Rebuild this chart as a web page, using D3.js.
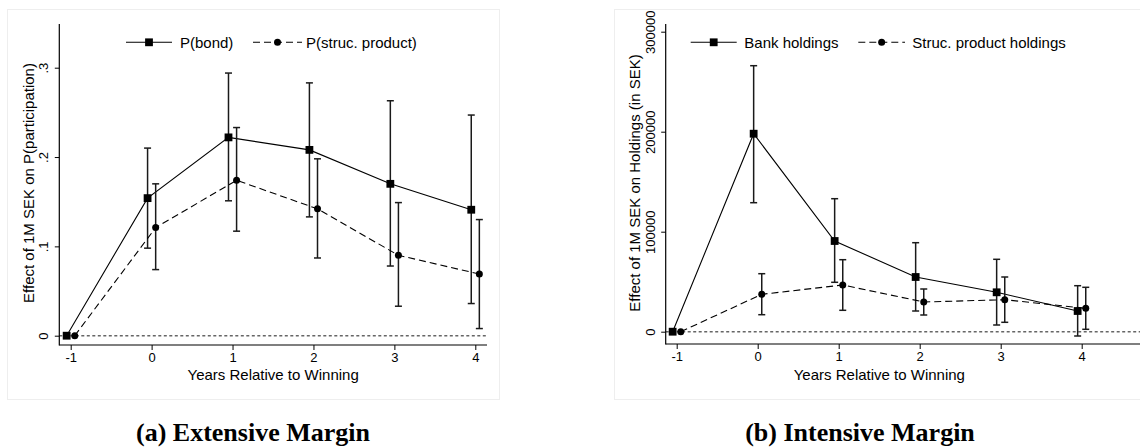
<!DOCTYPE html>
<html><head><meta charset="utf-8">
<script src="https://cdn.jsdelivr.net/npm/d3@7"></script>
<style>body{margin:0;background:#fff}svg{display:block}</style>
</head><body>
<svg id="c" width="1140" height="447"></svg>
<script>
const years = [-1, 0, 1, 2, 3, 4];
const yearLabels = ["-1", "0", "1", "2", "3", "4"];
// Panel (a) Extensive margin
const bondEst = [0, 0.154, 0.222, 0.208, 0.170, 0.141];
const bondLo  = [0, 0.098, 0.151, 0.133, 0.078, 0.036];
const bondHi  = [0, 0.210, 0.294, 0.283, 0.263, 0.247];
const strucEst = [0, 0.121, 0.174, 0.142, 0.090, 0.069];
const strucLo  = [0, 0.074, 0.117, 0.087, 0.033, 0.008];
const strucHi  = [0, 0.170, 0.233, 0.198, 0.149, 0.130];
const aTicks = [0, 0.1, 0.2, 0.3];
const aTickLabels = ["0", ".1", ".2", ".3"];
// Panel (b) Intensive margin
const bankEst = [0, 198000, 90700, 54700, 39400, 20700];
const bankLo  = [0, 129000, 49400, 20700, 6700, -4300];
const bankHi  = [0, 266000, 133000, 89000, 72400, 46000];
const spEst = [0, 37400, 46700, 29700, 32000, 23400];
const spLo  = [0, 17000, 21400, 16700, 9400, 2400];
const spHi  = [0, 58000, 72000, 42700, 54700, 44400];
const bTicks = [0, 100000, 200000, 300000];
const bTickLabels = ["0", "100000", "200000", "300000"];

const svg = d3.select("#c");
const SANS = "'Liberation Sans', Arial, sans-serif";

function panel(o) {
  const g = svg.append("g");
  g.append("rect").attr("x", o.bg[0]).attr("y", o.bg[1]).attr("width", o.bg[2]).attr("height", o.bg[3])
    .attr("fill", "#fff").attr("stroke", "#eeeeee").attr("stroke-width", 1);
  const x = d3.scaleLinear().domain([-1, 4]).range(o.xr);
  const y = d3.scaleLinear().domain(o.yd).range(o.yr);
  // zero reference
  g.append("line").attr("x1", o.axX).attr("x2", o.axRight).attr("y1", y(0)).attr("y2", y(0))
    .attr("stroke", "#666").attr("stroke-width", 1.4).attr("stroke-dasharray", "3,2.5");
  // y axis
  const ya = d3.axisLeft(y).tickValues(o.yTicks).tickFormat((d, i) => o.yLabels[i]).tickSize(4.5).tickPadding(6);
  const yg = g.append("g").attr("transform", `translate(${o.axX},0)`).call(ya);
  yg.select(".domain").remove();
  yg.selectAll("line").attr("stroke", "#000");
  yg.selectAll("text").attr("font-family", SANS).attr("font-size", 13).attr("fill", "#000")
    .attr("text-anchor", "middle").attr("dy", 0).attr("x", 0).attr("y", 0)
    .attr("transform", "translate(-11,0) rotate(-90)");
  g.append("line").attr("x1", o.axX).attr("x2", o.axX).attr("y1", o.axTop).attr("y2", o.axBottom + 0.5)
    .attr("stroke", "#000").attr("stroke-width", 1.2);
  // x axis
  const xa = d3.axisBottom(x).tickValues(years).tickFormat((d, i) => yearLabels[i]).tickSize(5).tickPadding(3);
  const xg = g.append("g").attr("transform", `translate(0,${o.axBottom})`).call(xa);
  xg.select(".domain").remove();
  xg.selectAll("line").attr("stroke", "#000");
  xg.selectAll("text").attr("font-family", SANS).attr("font-size", 13).attr("fill", "#000");
  g.append("line").attr("x1", o.axX).attr("x2", o.axRight).attr("y1", o.axBottom).attr("y2", o.axBottom)
    .attr("stroke", "#000").attr("stroke-width", 1.2);
  // titles
  g.append("text").attr("x", (o.axX + o.axRightTitle) / 2).attr("y", 380).attr("text-anchor", "middle")
    .attr("font-family", SANS).attr("font-size", 15).text("Years Relative to Winning");
  g.append("text").attr("transform", `translate(${o.ytX},183) rotate(-90)`).attr("text-anchor", "middle")
    .attr("font-family", SANS).attr("font-size", 15).text(o.ytitle);
  // series
  const series = [
    {est: o.s1[0], lo: o.s1[1], hi: o.s1[2], off: -0.05, dash: null, shape: "sq"},
    {est: o.s2[0], lo: o.s2[1], hi: o.s2[2], off: 0.05, dash: "7,4", shape: "ci"}
  ];
  series.forEach(s => {
    const pts = years.map((yr, i) => ({x: yr + s.off, v: s.est[i], lo: s.lo[i], hi: s.hi[i]}));
    pts.slice(1).forEach(p => {
      g.append("line").attr("x1", x(p.x)).attr("x2", x(p.x)).attr("y1", y(p.lo)).attr("y2", y(p.hi))
        .attr("stroke", "#1a1a1a").attr("stroke-width", 1.5);
      [p.lo, p.hi].forEach(v => g.append("line").attr("x1", x(p.x) - 3.5).attr("x2", x(p.x) + 3.5)
        .attr("y1", y(v)).attr("y2", y(v)).attr("stroke", "#1a1a1a").attr("stroke-width", 1.5));
    });
    g.append("path").attr("d", d3.line().x(p => x(p.x)).y(p => y(p.v))(pts))
      .attr("fill", "none").attr("stroke", "#000").attr("stroke-width", 1.1)
      .attr("stroke-dasharray", s.dash);
    pts.forEach(p => {
      if (s.shape === "sq") g.append("rect").attr("x", x(p.x) - 3.9).attr("y", y(p.v) - 3.9)
        .attr("width", 7.8).attr("height", 7.8).attr("fill", "#000");
      else g.append("circle").attr("cx", x(p.x)).attr("cy", y(p.v)).attr("r", 3.5).attr("fill", "#000");
    });
  });
  // legend
  const L = o.legend;
  g.append("line").attr("x1", L[0]).attr("x2", L[1]).attr("y1", 42.3).attr("y2", 42.3).attr("stroke", "#000").attr("stroke-width", 1.1);
  g.append("rect").attr("x", (L[0] + L[1]) / 2 - 3.9).attr("y", 42.3 - 3.9).attr("width", 7.8).attr("height", 7.8).attr("fill", "#000");
  g.append("text").attr("x", L[2]).attr("y", 47.5).attr("font-family", SANS).attr("font-size", 15).text(o.names[0]);
  g.append("line").attr("x1", L[3]).attr("x2", L[4]).attr("y1", 42.3).attr("y2", 42.3).attr("stroke", "#000").attr("stroke-width", 1.1).attr("stroke-dasharray", "7,4");
  g.append("circle").attr("cx", (L[3] + L[4]) / 2).attr("cy", 42.3).attr("r", 3.5).attr("fill", "#000");
  g.append("text").attr("x", L[5]).attr("y", 47.5).attr("font-family", SANS).attr("font-size", 15).text(o.names[1]);
  // caption
  svg.append("text").attr("x", o.capX).attr("y", 441).attr("text-anchor", "middle")
    .attr("font-family", "'Liberation Serif', 'Times New Roman', serif").attr("font-weight", "bold")
    .attr("font-size", 26).text(o.caption);
}

panel({
  bg: [7.5, 9.5, 492, 390],
  xr: [70.7, 475.3], yd: [0, 0.3], yr: [335.7, 67.7],
  axX: 59.3, axTop: 24, axBottom: 345, axRight: 487, axRightTitle: 487,
  yTicks: aTicks, yLabels: aTickLabels, ytX: 33.7,
  ytitle: "Effect of 1M SEK on P(participation)",
  s1: [bondEst, bondLo, bondHi], s2: [strucEst, strucLo, strucHi],
  names: ["P(bond)", "P(struc. product)"],
  legend: [126, 172, 180, 253, 302, 306],
  caption: "(a) Extensive Margin", capX: 253
});
panel({
  bg: [614.5, 9.5, 530, 390],
  xr: [676.7, 1081.7], yd: [0, 300000], yr: [331.7, 31.7],
  axX: 665.7, axTop: 24, axBottom: 344, axRight: 1140, axRightTitle: 1093,
  yTicks: bTicks, yLabels: bTickLabels, ytX: 640,
  ytitle: "Effect of 1M SEK on Holdings (in SEK)",
  s1: [bankEst, bankLo, bankHi], s2: [spEst, spLo, spHi],
  names: ["Bank holdings", "Struc. product holdings"],
  legend: [690.7, 736.7, 744.3, 858.3, 905, 912.3],
  caption: "(b) Intensive Margin", capX: 860
});
</script>
</body></html>
